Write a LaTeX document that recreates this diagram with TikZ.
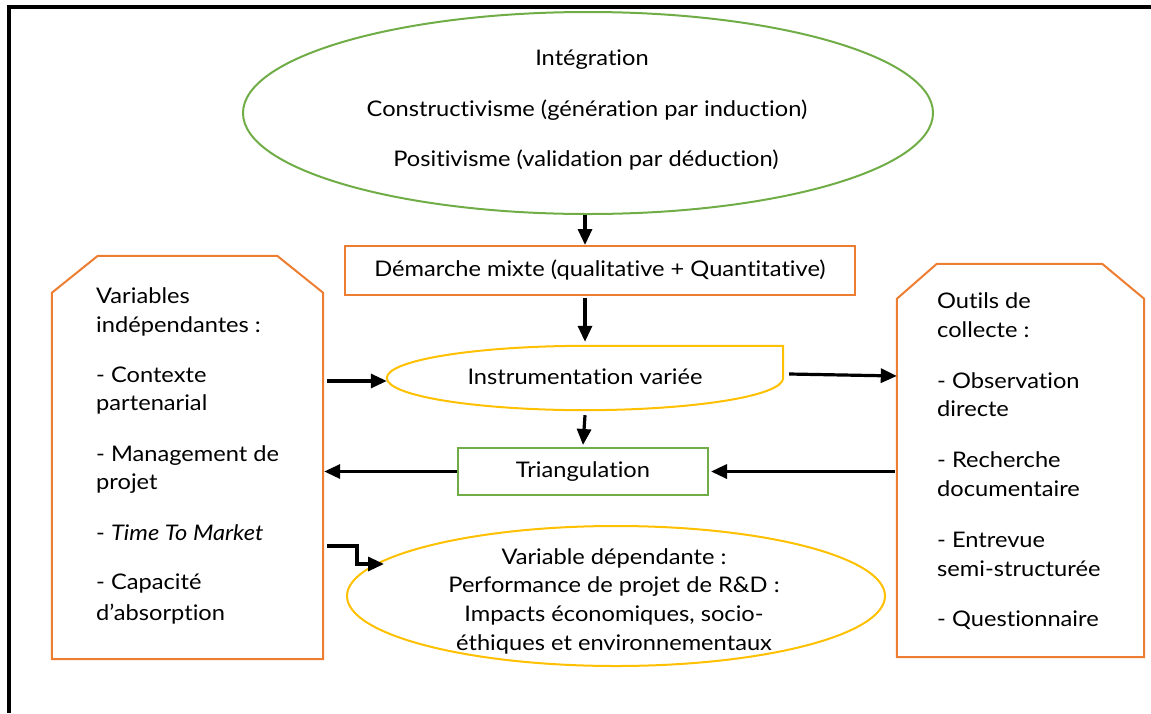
\documentclass[tikz,border=0pt]{standalone}
\usepackage{fontspec}
\setmainfont{Lato}[Ligatures={NoCommon},FakeStretch=1.1]
\usetikzlibrary{shapes.geometric,arrows.meta,calc}
\definecolor{cgreen}{HTML}{70AD47}
\definecolor{corange}{HTML}{ED7D31}
\definecolor{cgold}{HTML}{FFC000}
\begin{document}
\begin{tikzpicture}[x=1pt,y=-1pt,
  txt/.style={inner sep=0pt,text height=16pt,text depth=4pt,font=\fontsize{21.5}{26}\selectfont},
  lefttxt/.style={txt,anchor=west},
  shp/.style={line width=2pt},
  arr/.style={line width=3.2pt,-{Triangle[length=16pt,width=14pt]}},
  frame/.style={line width=4pt}]
\useasboundingbox (0,0) rectangle (1151,713);
\draw[frame] (1151,7) -- (8.5,7) -- (8.5,713);

% top ellipse
\node[ellipse,draw=cgreen,shp,minimum width=690pt,minimum height=202pt,inner sep=0pt] (ell1) at (588,113) {};
\node[txt] (t1) at (592,59) {Intégration};
\node[txt] (t2) at (587,110) {Constructivisme (génération par induction)};
\node[txt] (t3) at (586,160) {Positivisme (validation par déduction)};

% demarche
\node[draw=corange,shp,minimum width=510pt,minimum height=49pt,txt,inner sep=0pt] (dem) at (600,270.5) {Démarche mixte (qualitative + Quantitative)};

% instrumentation
\node[txt,minimum width=396pt,minimum height=64pt] (instr) at (585,378) {Instrumentation variée};
\draw[cgold,shp] (instr.north) -- (instr.north east) -- (instr.east)
  .. controls (783,396) and (694,410) .. (instr.south)
  .. controls (476,410) and (387,396) .. (instr.west)
  .. controls (387,360) and (476,346) .. (instr.north) -- cycle;

% triangulation
\node[draw=cgreen,shp,minimum width=250pt,minimum height=47pt,txt,inner sep=0pt] (tri) at (583,471.5) {Triangulation};

% dependent variable
\node[ellipse,draw=cgold,shp,minimum width=538pt,minimum height=140pt,inner sep=0pt] (dep) at (616,596) {};
\node[txt] (d1) at (614,558) {Variable dépendante :};
\node[txt] (d2) at (614,586) {Performance de projet de R\&D :};
\node[txt] (d3) at (614,615) {Impacts économiques, socio-};
\node[txt] (d4) at (614,644) {éthiques et environnementaux};

% left box
\node[minimum width=271pt,minimum height=403pt,inner sep=0pt] (iv) at (187.5,457.5) {};
\draw[corange,shp] (iv.south west) -- ($(iv.north west)+(0,-37pt)$) -- ($(iv.north west)+(46pt,0)$)
  -- ($(iv.north east)+(-46pt,0)$) -- ($(iv.north east)+(0,-37pt)$) -- (iv.south east) -- cycle;
\node[lefttxt] (l1) at (96,297) {Variables};
\node[lefttxt] (l2) at (96,326) {indépendantes :};
\node[lefttxt] (l3) at (96,376) {- Contexte};
\node[lefttxt] (l4) at (96,404) {partenarial};
\node[lefttxt] (l5) at (96,455) {- Management de};
\node[lefttxt] (l6) at (96,483) {projet};
\node[lefttxt] (l7) at (96,534) {- \textit{Time To Market}};
\node[lefttxt] (l8) at (96,583) {- Capacité};
\node[lefttxt] (l9) at (96,614) {d’absorption};

% right box
\node[minimum width=247pt,minimum height=393pt,inner sep=0pt] (oc) at (1020.5,460.5) {};
\draw[corange,shp] (oc.south west) -- ($(oc.north west)+(0,-35pt)$) -- ($(oc.north west)+(40pt,0)$)
  -- ($(oc.north east)+(-42pt,0)$) -- ($(oc.north east)+(0,-35pt)$) -- (oc.south east) -- cycle;
\node[lefttxt] (r1) at (937,302) {Outils de};
\node[lefttxt] (r2) at (937,331) {collecte :};
\node[lefttxt] (r3) at (937,382) {- Observation};
\node[lefttxt] (r4) at (937,410) {directe};
\node[lefttxt] (r5) at (937,461) {- Recherche};
\node[lefttxt] (r6) at (937,490) {documentaire};
\node[lefttxt] (r7) at (937,541) {- Entrevue};
\node[lefttxt] (r8) at (937,570) {semi-structurée};
\node[lefttxt] (r9) at (937,620) {- Questionnaire};

% connectors
\draw[arr] (ell1.south -| instr.north) -- (dem.north -| instr.north);
\draw[arr] ([yshift=-2pt]dem.south -| instr.north) -- ([yshift=4pt]instr.north);
\draw[arr] ([xshift=4pt,yshift=-3pt]iv.east |- instr.west) -- ([yshift=-3pt]instr.west);
\draw[arr] ([xshift=6pt,yshift=4pt]instr.east) -- ([yshift=2pt]oc.west |- instr.east);
\draw[arr] ([yshift=-5pt]instr.south) -- ([yshift=2pt]tri.north);
\draw[arr] (tri.west) -- ([xshift=1pt]iv.east |- tri.west);
\draw[arr] ([xshift=-2pt]oc.west |- tri.east) -- ([xshift=2pt]tri.east);
\coordinate (elbowstart) at (327,546);
\coordinate (elbowend) at (384,564);
\draw[arr] (elbowstart) -- (357,546) -- (357,564) -- (elbowend);
\end{tikzpicture}
\end{document}
